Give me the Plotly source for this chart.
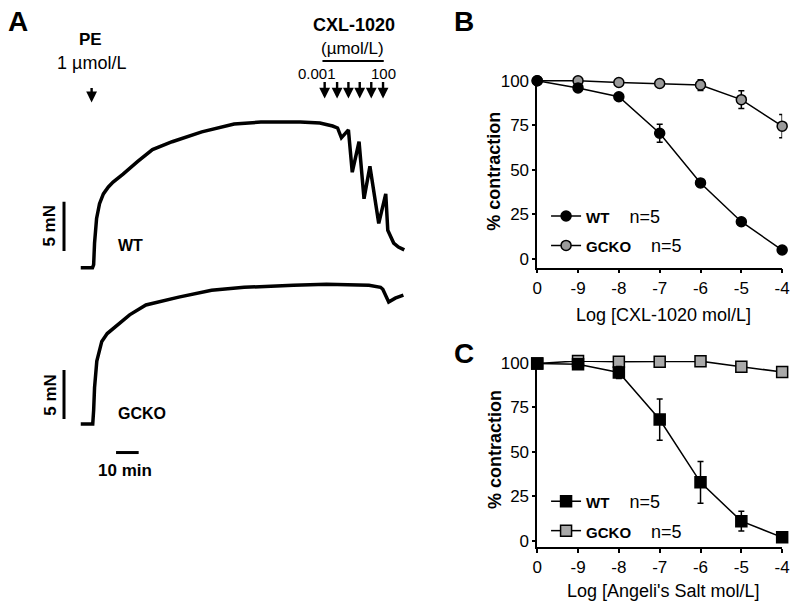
import plotly.graph_objects as go

W, H = 800, 607
FONT = "Liberation Sans, Arial, sans-serif"

def px(x):
    return x / W

def py(y):
    return 1 - y / H

# ---------------- Panel A: isometric force traces (time in min, force in mN)
wt_time = [0, 5.2, 5.7, 6.1, 7.0, 8.3, 10.0, 12.2, 14.3, 18.7, 25.2, 31.7, 40.4,
           53.5, 67.8, 79.6, 97.0, 105.7, 111.3, 113.5, 115.2, 118.3, 120.0,
           123.0, 125.2, 127.8, 131.7, 134.8, 135.7, 138.3, 140.4, 143.0]
wt_force = [0, 0, 0.3, 2.5, 5.0, 6.5, 7.5, 8.2, 8.7, 9.5, 10.8, 12.0, 12.8,
            13.8, 14.6, 14.8, 14.8, 14.7, 14.4, 14.2, 13.2, 14.0, 9.7,
            12.8, 7.0, 10.3, 4.5, 7.5, 3.8, 2.5, 2.1, 1.8]

gcko_time = [0, 5.3, 5.7, 6.1, 7.1, 9.3, 11.7, 14.3, 21.6, 28.8, 43.3, 57.8,
             72.2, 94.0, 108.6, 127.4, 132.5, 133.5, 136.1, 139.0, 142.6]
gcko_force = [0, 0, 1.4, 3.7, 6.4, 8.4, 9.2, 9.7, 11.1, 12.1, 12.9, 13.6,
              13.9, 14.1, 14.2, 14.1, 13.9, 13.7, 12.4, 12.8, 13.1]

pe_time = 4.8
cxl_times = [107.8, 113.3, 118.3, 123.3, 128.4, 133.6]
scale_force = 5      # mN
scale_time = 10      # min

# ---------------- Panels B and C: concentration-response
conc_labels = ["0", "-9", "-8", "-7", "-6", "-5", "-4"]

b_wt = [100, 96, 91, 70.5, 42.6, 20.8, 4.9]
b_wt_err = [0.5, 1, 1.5, 5, 2, 1.5, 1]
b_gcko = [100, 100, 99, 98.5, 97.6, 89.4, 74.5]
b_gcko_err = [0, 0.5, 0.5, 1, 3, 5, 6.5]

c_wt = [99.6, 99.1, 94.5, 68.1, 32.8, 11.0, 1.9]
c_wt_err = [0.5, 1, 3.4, 11.6, 11.7, 5.5, 1]
c_gcko = [99.6, 101.0, 100.6, 100.6, 100.9, 97.8, 94.8]
c_gcko_err = [0.5, 0.5, 0.5, 0.5, 0.5, 1, 1]

fig = go.Figure()

# Panel A traces
fig.add_trace(go.Scatter(x=wt_time, y=wt_force, mode="lines",
                         line=dict(color="black", width=3.5),
                         xaxis="x3", yaxis="y3", showlegend=False,
                         hoverinfo="skip"))
fig.add_trace(go.Scatter(x=gcko_time, y=gcko_force, mode="lines",
                         line=dict(color="black", width=3.5),
                         xaxis="x4", yaxis="y4", showlegend=False,
                         hoverinfo="skip"))

def leg_name(bold, n, gap):
    return f"<b><span style='font-size:15px'>{bold}</span></b>{gap}{n}"

def add_curve(y, err, xa, ya, legend, name, symbol, fill, rank, size, group):
    fig.add_trace(go.Scatter(
        x=conc_labels, y=y, mode="lines+markers",
        error_y=dict(type="data", array=err, color="black", thickness=1.5, width=3),
        line=dict(color="black", width=1.5),
        marker=dict(symbol=symbol, size=size, color=fill,
                    line=dict(color="black", width=1.5)),
        xaxis=xa, yaxis=ya, cliponaxis=False, name=name,
        legend=legend, legendrank=rank, legendgroup=group))

# GCKO first so WT is drawn on top
add_curve(b_gcko, b_gcko_err, "x", "y", "legend", leg_name("GCKO", "n=5", "    "),
          "circle", "#9a9a9a", 2, 10, "bg")
add_curve(b_wt, b_wt_err, "x", "y", "legend", leg_name("WT", "n=5", "    "),
          "circle", "black", 1, 10, "bw")
add_curve(c_gcko, c_gcko_err, "x2", "y2", "legend2", leg_name("GCKO", "n=5", "    "),
          "square", "#a9a9a9", 2, 11, "cg")
add_curve(c_wt, c_wt_err, "x2", "y2", "legend2", leg_name("WT", "n=5", "    "),
          "square", "black", 1, 11, "cw")

# ---------------- Axes
A_T0, MIN_PX, MN_PX = 77, 2.3, 10
ax_hidden = dict(visible=False, showgrid=False, zeroline=False, fixedrange=True)

cat_x = dict(type="category", categoryorder="array", categoryarray=conc_labels,
             range=[0, 6], showline=True, linecolor="black", linewidth=1.5,
             ticks="outside", ticklen=4, tickwidth=1.5, tickcolor="black",
             tickfont=dict(size=17, color="black"), showgrid=False,
             zeroline=False)
pct_y = dict(tickvals=[0, 25, 50, 75, 100], showline=True, linecolor="black",
             linewidth=1.5, ticks="outside", ticklen=3, tickwidth=1.5,
             tickcolor="black", tickfont=dict(size=17, color="black"),
             showgrid=False, zeroline=False)

leg_common = dict(xanchor="left", yanchor="top", bgcolor="rgba(0,0,0,0)",
                  font=dict(size=18, family=FONT), itemwidth=30,
                  traceorder="grouped", tracegroupgap=3)

fig.update_layout(
    width=W, height=607, autosize=False,
    margin=dict(l=0, r=0, t=0, b=0),
    paper_bgcolor="white", plot_bgcolor="rgba(0,0,0,0)",
    font=dict(family=FONT, color="black"),
    xaxis3=dict(ax_hidden, domain=[0, px(480)], anchor="y3",
                range=[-A_T0 / MIN_PX, (480 - A_T0) / MIN_PX]),
    yaxis3=dict(ax_hidden, domain=[py(285), py(95)], anchor="x3",
                range=[(265 - 285) / MN_PX, (265 - 95) / MN_PX]),
    xaxis4=dict(ax_hidden, domain=[0, px(480)], anchor="y4",
                range=[-A_T0 / MIN_PX, (480 - A_T0) / MIN_PX]),
    yaxis4=dict(ax_hidden, domain=[py(440), py(265)], anchor="x4",
                range=[(424 - 440) / MN_PX, (424 - 265) / MN_PX]),
    xaxis=dict(cat_x, domain=[px(541), px(790)], anchor="y"),
    yaxis=dict(pct_y, domain=[py(265), py(73.2)], anchor="x", range=[-5, 101]),
    xaxis2=dict(cat_x, domain=[px(541), px(790)], anchor="y2"),
    yaxis2=dict(pct_y, domain=[py(549.2), py(359.9)], anchor="x2", range=[-3.6, 101]),
    legend=dict(leg_common, x=px(550), y=py(194)),
    legend2=dict(leg_common, x=px(550), y=py(484)),
)

# ---------------- Shapes (scale bars, underline)
line_k = dict(color="black", width=3)
fig.add_shape(type="line", xref="x3", yref="y3", x0=-7.4, x1=-7.4,
              y0=1.7, y1=1.7 + scale_force, line=line_k)
fig.add_shape(type="line", xref="x4", yref="y4", x0=-7.4, x1=-7.4,
              y0=0.5, y1=0.5 + scale_force, line=line_k)
fig.add_shape(type="line", xref="x4", yref="paper", x0=15.6, x1=15.6 + scale_time,
              y0=py(453), y1=py(453), line=line_k)
fig.add_shape(type="line", xref="paper", yref="paper", x0=px(322.7), x1=px(385),
              y0=py(55), y1=py(55), line=dict(color="black", width=2))

# ---------------- Annotations
def txt(x, y, s, size, bold=False, angle=0):
    fig.add_annotation(x=px(x), y=py(y), xref="paper", yref="paper",
                       text=f"<b>{s}</b>" if bold else s, showarrow=False,
                       font=dict(size=size, family=FONT, color="black"),
                       xanchor="center", yanchor="middle", textangle=angle)

txt(13, 15, "A", 28, True)
txt(467, 15, "B", 28, True)
txt(467, 352, "C", 28, True)
txt(87, 33, "PE", 17, True)
txt(88, 57, "1 µmol/L", 18)
txt(355, 18, "CXL-1020", 18, True)
txt(353, 42, "(µmol/L)", 17)
txt(317, 68, "0.001", 15)
txt(385, 68, "100", 15)
txt(128, 242, "WT", 16, True)
txt(139, 413, "GCKO", 16, True)
txt(45, 222, "5 mN", 17, True, -90)
txt(46, 394, "5 mN", 17, True, -90)
txt(122, 471, "10 min", 17, True)
txt(497.5, 167, "% contraction", 18, True, -90)
txt(669, 313, "Log [CXL-1020 mol/L]", 18)
txt(497.5, 450, "% contraction", 18, True, -90)
txt(669, 594, "Log [Angeli's Salt mol/L]", 18)

arrow = dict(showarrow=True, text="", arrowhead=2, arrowsize=0.9, arrowwidth=2.4,
             arrowcolor="black", ax=0, xref="x3", yref="paper")
fig.add_annotation(arrow, x=pe_time, y=py(97), ay=-16)
for t in cxl_times:
    fig.add_annotation(arrow, x=t, y=py(93), ay=-18)

fig.write_html("out.html",
               config={"displayModeBar": False},
               post_script="document.body.style.margin='0';"
                           "document.body.style.overflow='hidden';")
